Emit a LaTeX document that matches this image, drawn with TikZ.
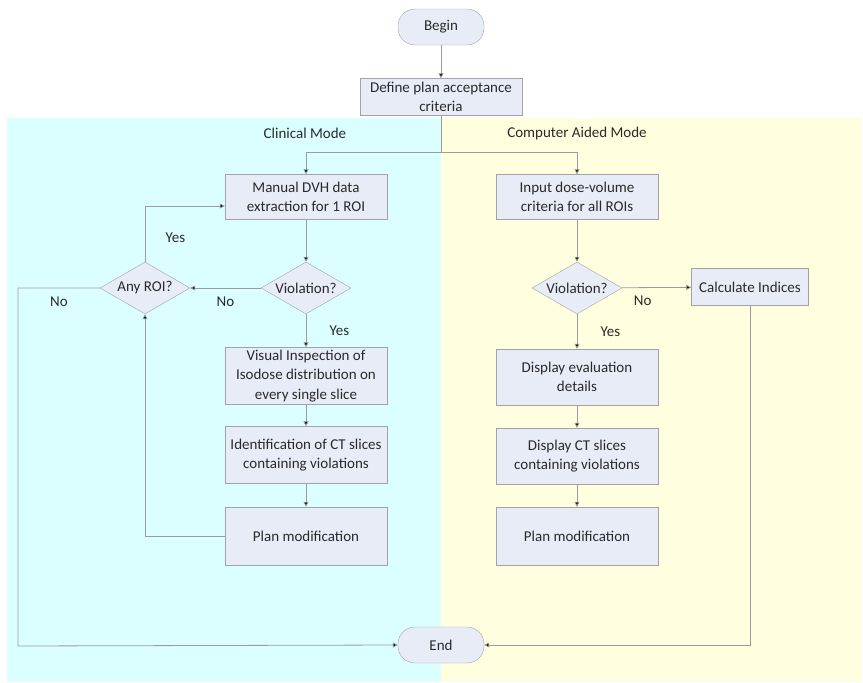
\documentclass[tikz,border=0pt]{standalone}
\usepackage{fontspec}
\setmainfont{Carlito}
\usetikzlibrary{shapes.geometric,arrows.meta}
\definecolor{boxfill}{HTML}{E8ECF6}
\definecolor{edge}{HTML}{A0A4AA}
\definecolor{wire}{HTML}{9C9C9C}
\definecolor{txt}{HTML}{2A2A2A}
\definecolor{clinbg}{HTML}{DBFFFF}
\definecolor{cadbg}{HTML}{FFFFDF}

\begin{document}
\begin{tikzpicture}[x=1pt,y=-1pt,
  font=\fontsize{15}{19.5}\selectfont, text=txt,
  box/.style={draw=edge, fill=boxfill, align=center, inner sep=1pt, minimum width=162},
  term/.style={draw=edge, fill=boxfill, rounded corners=17, minimum width=86, minimum height=36},
  test/.style={diamond, draw=edge, fill=boxfill, inner sep=0pt, aspect=1.7, minimum width=90, minimum height=52},
  arr/.style={draw=wire, line width=0.8pt, -{Triangle[length=5pt,width=5pt,fill=black]}},
  wire/.style={draw=wire, line width=0.8pt}]
\useasboundingbox (0,0) rectangle (863,683);
% background panels
\fill[clinbg] (7,118) rectangle (441,682);
\fill[cadbg] (441,118) rectangle (862,682);
\node (clinlbl) at (305,133) {Clinical Mode};
\node (cadlbl) at (577,133) {Computer Aided Mode};

% common part
\node[term] (begin) at (441,27) {Begin};
\node[box, minimum height=37] (define) at (441,97) {Define plan acceptance\\criteria};
\node[term] (end) at (441,645) {End};

% clinical mode
\node[box, minimum height=45] (manual) at (306,197) {Manual DVH data\\extraction for 1 ROI};
\node[test] (viol1) at (306,288) {Violation?};
\node[test] (anyroi) at (145,288) {Any ROI?};
\node[box, minimum height=57] (visual) at (306,376) {Visual Inspection of\\Isodose distribution on\\every single slice};
\node[box, minimum height=57] (ident) at (306,455) {Identification of CT slices\\containing violations};
\node[box, minimum height=58] (plan1) at (306,536) {Plan modification};

% computer aided mode
\node[box, minimum height=45] (input) at (577,197) {Input dose-volume\\criteria for all ROIs};
\node[test] (viol2) at (577,288) {Violation?};
\node[box, minimum width=117, minimum height=37] (calc) at (750,287) {Calculate Indices};
\node[box, minimum height=56] (disp1) at (577,377) {Display evaluation\\details};
\node[box, minimum height=56] (disp2) at (577,456) {Display CT slices\\containing violations};
\node[box, minimum height=58] (plan2) at (577,536) {Plan modification};

\coordinate (split) at (441,152);
\coordinate (lc) at (18,646);

\draw[arr] (begin) -- (define);
\draw[wire] (define.south) -- (split);
\draw[arr] (split) -| (manual.north);
\draw[arr] (split) -| (input.north);

\draw[arr] (manual) -- (viol1);
\draw[arr] (viol1) -- node[below=5pt] (no1) {No} (anyroi);
\draw[arr] (anyroi.north) |- node[pos=0.22, right=17pt] (yes1) {Yes} ([yshift=-9pt]manual.west);
\draw[arr] (anyroi.west) -- node[below=5pt] (no2) {No} (18,288) -- (lc) -- (end.west);
\draw[arr] (viol1) -- node[right=20pt] (yes2) {Yes} (visual);
\draw[arr] (visual) -- (ident);
\draw[arr] (ident) -- (plan1);
\draw[arr] (plan1.west) -| (anyroi.south);

\draw[arr] (input) -- (viol2);
\draw[arr] (viol2) -- node[pos=0.3, below=5pt] (no3) {No} (calc);
\draw[arr] (viol2) -- node[right=20pt] (yes3) {Yes} (disp1);
\draw[arr] (disp1) -- (disp2);
\draw[arr] (disp2) -- (plan2);
\draw[arr] (calc.south) |- (end.east);
\end{tikzpicture}
\end{document}
